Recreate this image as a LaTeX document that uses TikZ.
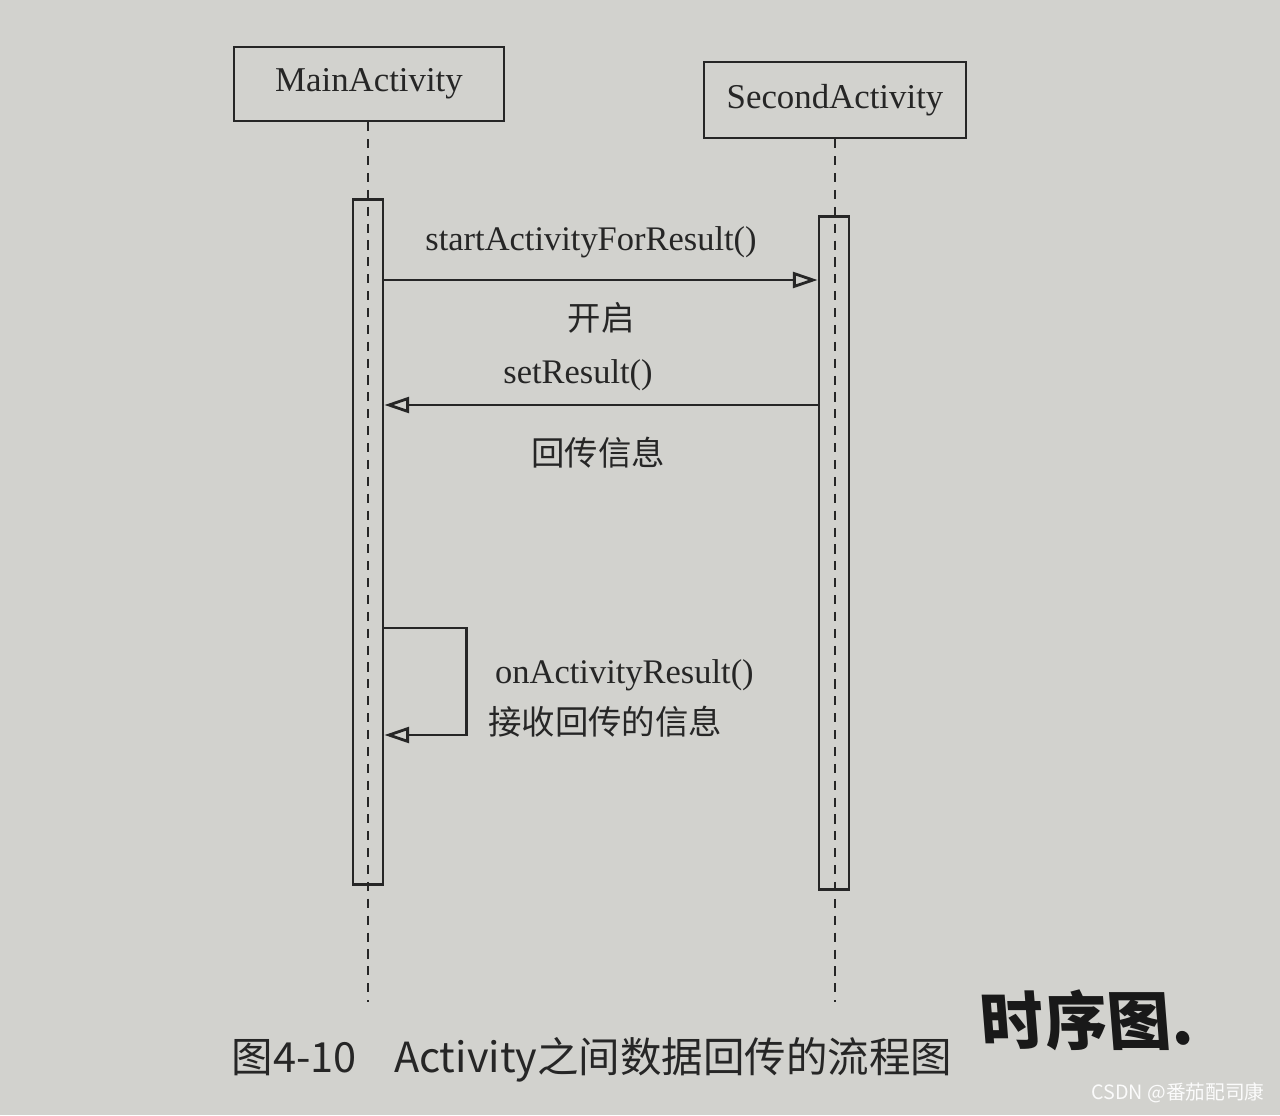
\documentclass[tikz,border=0pt]{standalone}
\usepackage{fontspec}
\setmainfont{Liberation Serif}
\newfontfamily\cjk{Noto Sans CJK SC}
\usepackage{xcolor}
\usepackage{tikz}
\usetikzlibrary{arrows.meta,positioning}

\definecolor{paper}{RGB}{210,210,206}
\definecolor{ink}{RGB}{38,38,38}

\begin{document}
\begin{tikzpicture}[
    x=0.01cm, y=-0.01cm,
    lifebox/.style={rectangle, draw=ink, line width=0.7pt, minimum width=2.7cm, minimum height=0.74cm, font=\fontsize{9.9}{12}\selectfont, text=ink},
    actbar/.style={rectangle, draw=ink, line width=0.8pt, minimum width=0.3cm, inner sep=0pt},
    lifeline/.style={draw=ink, line width=0.8pt, dash pattern=on 2.6pt off 2.2pt},
    msg/.style={draw=ink, line width=0.8pt, -{Triangle[open,length=7pt,width=4.5pt]}},
    lbl/.style={font=\fontsize{9.8}{12}\selectfont, text=ink, inner sep=1pt},
    cnlbl/.style={font=\cjk\fontsize{9.5}{12}\selectfont, text=ink, inner sep=1pt}
]
    \fill[paper] (0,0) rectangle (1280,1115);
    \useasboundingbox (0,0) rectangle (1280,1115);

    % participants
    \node[lifebox] (main) at (369,84) {MainActivity};
    \node[lifebox, minimum width=2.62cm, minimum height=0.76cm] (second) at (835,100) {SecondActivity};
    \coordinate (mainend) at (368,1002);
    \coordinate (secondend) at (835,1002);
    \draw[lifeline] (main.south -| mainend) -- (mainend);
    \draw[lifeline] (second.south) -- (secondend);

    % activation bars
    \node[actbar, minimum height=6.85cm] (mainact) at (368,542) {};
    \node[actbar, minimum height=6.73cm] (secondact) at (834,553) {};

    % messages
    \coordinate (m1) at (0,280);
    \coordinate (m2) at (0,405);
    \coordinate (m3) at (0,628);
    \coordinate (m4) at (0,735);
    \draw[msg] (mainact.east |- m1) -- (secondact.west |- m1);
    \draw[msg] (secondact.west |- m2) -- (mainact.east |- m2);
    \draw[msg] (mainact.east |- m3) -- ++(82,0) |- (mainact.east |- m4);

    % labels
    \node[lbl] (startlbl) at (591,242) {startActivityForResult()};
    \node[cnlbl] (openlbl) at (601,318) {开启};
    \node[lbl] (setlbl) at (578,375) {setResult()};
    \node[cnlbl] (backlbl) at (598,453) {回传信息};
    \node[lbl, anchor=west] (onlbl) at (491,675) {onActivityResult()};
    \node[cnlbl, anchor=west] (recvlbl) at (484,722) {接收回传的信息};

    % caption, note, watermark
    \node[font=\cjk\fontsize{11.8}{14}\selectfont, text=ink] (caption) at (592,1060) {图4-10\hspace{0.9em}Activity之间数据回传的流程图};
    \node[font=\cjk\bfseries\fontsize{18}{22}\selectfont, text=black!90, xslant=-0.08] (note) at (1087,1020) {时序图.};
    \node[font=\cjk\fontsize{5.6}{7}\selectfont, text=white!92!paper] (mark) at (1178,1093) {CSDN @番茄配司康};
\end{tikzpicture}
\end{document}
